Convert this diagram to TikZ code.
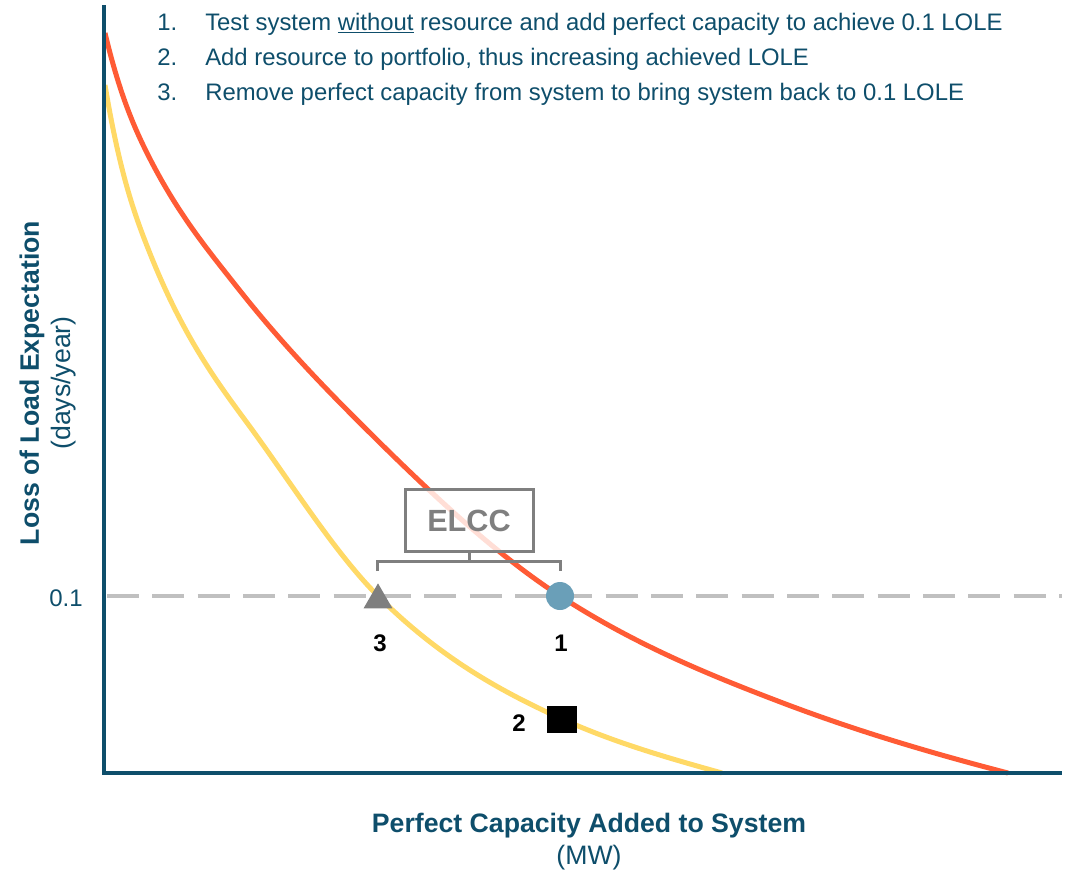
\documentclass[tikz,border=0pt]{standalone}
\usepackage{fontspec}
\setmainfont{Liberation Sans}
\usetikzlibrary{shapes.geometric}
\definecolor{teal}{HTML}{0E4E6B}
\definecolor{redc}{HTML}{FF5B35}
\definecolor{yelc}{HTML}{FFD966}
\definecolor{dashc}{HTML}{C0C0C0}
\definecolor{bluec}{HTML}{6A9FB8}
\definecolor{grayc}{HTML}{7F7F7F}
\begin{document}
\begin{tikzpicture}[x=0.75pt,y=-0.75pt,
  axis/.style={draw=teal,line width=3pt},
  curve/.style={line width=3.75pt},
  listtxt/.style={anchor=base west,inner sep=0pt,text=teal,font=\fontsize{17.9}{21}\selectfont},
  lbl/.style={inner sep=0pt,font=\fontsize{18}{22}\selectfont\bfseries,text=black},
  axtitle/.style={text=teal,align=center,inner sep=0pt}]
\useasboundingbox (0,0) rectangle (1069,872);
% reference line
\coordinate (d0) at (107,596);
\coordinate (d1) at (1062,596);
\draw[dashc,line width=3pt,dash pattern=on 24pt off 10pt] (d0) -- (d1);
% curves
\draw[curve,redc] (105,33)
  .. controls (119,91.8) and (133,125) .. (147,153)
  .. controls (177,213) and (207,248.9) .. (237,287)
  .. controls (277,337.8) and (317,380) .. (357,420)
  .. controls (424.67,487.67) and (492.33,552) .. (560,596)
  .. controls (634.33,644.3) and (708.67,674.8) .. (783,703)
  .. controls (858,731.5) and (933,753.5) .. (1008,773);
\draw[curve,yelc] (105,85)
  .. controls (120,175) and (135,216) .. (150,253.5)
  .. controls (181.67,332.7) and (213.33,377.25) .. (245,420)
  .. controls (289.33,479.85) and (333.67,551.67) .. (378,596)
  .. controls (439.33,657.33) and (500.67,691.4) .. (562,719)
  .. controls (615.33,743) and (668.67,758.1) .. (722,773);
% axes
\coordinate (ytop) at (104,5);
\coordinate (orig) at (104,773);
\coordinate (xend) at (1062,773);
\draw[axis] (ytop) -- (orig) -- (xend);
% ELCC box
\node[draw=grayc,line width=2.25pt,fill=white,fill opacity=0.8,text opacity=1,minimum width=96pt,minimum height=47pt,inner sep=0pt,text=grayc,font=\fontsize{23}{27}\selectfont\bfseries] (elcc) at (469,520.5) {ELCC};
\coordinate (bl) at (377,571);
\coordinate (br) at (560,571);
\coordinate (bm) at (469,561);
\draw[grayc,line width=2.25pt] (bl) |- (bm) -| (br);
\draw[grayc,line width=2.25pt] (elcc.south) -- (bm);
% markers
\node[circle,fill=bluec,minimum size=21pt,inner sep=0pt] (m1) at (560,596) {};
\node[regular polygon,regular polygon sides=3,fill=grayc,minimum size=25pt,inner sep=0pt] (m3) at (378,600) {};
\node[fill=black,minimum width=22.5pt,minimum height=20pt,inner sep=0pt] (m2) at (562,719.5) {};
\node[lbl] (l1) at (561,643) {1};
\node[lbl] (l3) at (380,643) {3};
\node[lbl] (l2) at (519,723) {2};
% y tick label
\node[text=teal,inner sep=0pt,font=\fontsize{18}{22}\selectfont] (tick) at (66,598) {0.1};
% axis titles
\node[axtitle,rotate=90,font=\fontsize{20}{24}\selectfont] (ytitle) at (48,383) {\textbf{Loss of Load Expectation}\\(days/year)};
\node[axtitle,font=\fontsize{20}{24}\selectfont] (xtitle) at (589,842) {\textbf{Perfect Capacity Added to System}\\(MW)};
% list
\node[listtxt] (n1) at (157,30) {1.};
\node[listtxt] (t1) at (205,30) {Test system \underline{without} resource and add perfect capacity to achieve 0.1 LOLE};
\node[listtxt] (n2) at (157,65) {2.};
\node[listtxt] (t2) at (205,65) {Add resource to portfolio, thus increasing achieved LOLE};
\node[listtxt] (n3) at (157,100) {3.};
\node[listtxt] (t3) at (205,100) {Remove perfect capacity from system to bring system back to 0.1 LOLE};
\end{tikzpicture}
\end{document}
